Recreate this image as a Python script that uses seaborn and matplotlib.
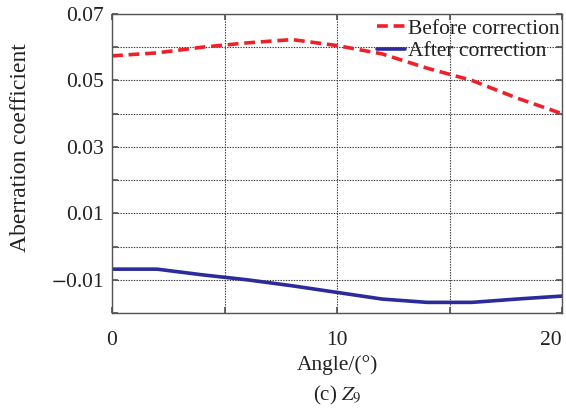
import matplotlib
matplotlib.use("Agg")
import matplotlib.pyplot as plt
import seaborn as sns
import pandas as pd

angle = [0, 2, 4, 6, 8, 10, 12, 14, 16, 18, 20]
before = [0.0574, 0.0583, 0.0600, 0.0613, 0.0623, 0.0605, 0.0580, 0.0537, 0.0500, 0.0447, 0.0400]
after = [-0.0068, -0.0068, -0.0085, -0.0100, -0.0118, -0.0138, -0.0158, -0.0168, -0.0168, -0.0158, -0.0149]
series_names = ["Before correction", "After correction"]
xtick_vals = [0, 5, 10, 15, 20]
xtick_labels = ["0", "", "10", "", "20"]
ytick_vals = [-0.02, -0.01, 0.0, 0.01, 0.02, 0.03, 0.04, 0.05, 0.06, 0.07]
ytick_labels = ["", r"$-$0.01", "", "0.01", "", "0.03", "", "0.05", "", "0.07"]

sns.set_theme(style="white")
plt.rcParams["font.family"] = ["Liberation Serif", "DejaVu Serif"]
plt.rcParams["mathtext.fontset"] = "stix"

df = pd.DataFrame({
    "angle": angle * 2,
    "value": before + after,
    "series": [series_names[0]] * len(angle) + [series_names[1]] * len(angle),
})

fig = plt.figure(figsize=(5.66, 4.16), dpi=100)
ax = fig.add_axes([112 / 566, 1 - 313 / 416, (562 - 112) / 566, (313 - 14) / 416])

sns.lineplot(data=df, x="angle", y="value", hue="series", style="series",
             palette={series_names[0]: "#f0202a", series_names[1]: "#2b2b9b"},
             dashes={series_names[0]: (3, 1.6), series_names[1]: ""},
             linewidth=2.6, ax=ax, legend=True)

ax.set_xlim(0, 20)
ax.set_ylim(-0.02, 0.07)
ax.set_xticks(xtick_vals)
ax.set_xticklabels(xtick_labels)
ax.set_yticks(ytick_vals)
ax.set_yticklabels(ytick_labels)
ax.grid(True, linestyle=(0, (1.2, 1.2)), color="#333333", linewidth=0.8)
for s in ax.spines.values():
    s.set_color("#555555")
    s.set_linewidth(1.0)
ax.tick_params(axis="both", direction="in", length=4, color="#555555",
               labelsize=15.5, colors="#222222", top=True, right=True,
               left=True, bottom=True)
ax.tick_params(axis="x", pad=13)
ax.tick_params(axis="y", pad=6)
xl = ax.get_xticklabels()
xl[-1].set_ha("right")

ax.set_xlabel("Angle/(\u00b0)", fontsize=15.5, color="#222222")
ax.xaxis.set_label_coords(0.5, 1 - (355 - 14) / 299)
ax.set_ylabel("Aberration coefficient", fontsize=17, color="#222222")
ax.yaxis.set_label_coords((31 - 112) / 450, 1 - (148 - 14) / 299)

leg = ax.legend(loc="upper right", frameon=False, fontsize=15.5, handlelength=1.3,
                handletextpad=0.15, borderaxespad=0.0, labelspacing=0.12,
                borderpad=0.0, bbox_to_anchor=(0.995, 0.985))
for t in leg.get_texts():
    t.set_color("#222222")

fig.text(337 / 566, 1 - 395 / 416, r"(c) $Z_9$", ha="center", va="center",
         fontsize=15, color="#222222")

fig.savefig("out.png", dpi=100)
